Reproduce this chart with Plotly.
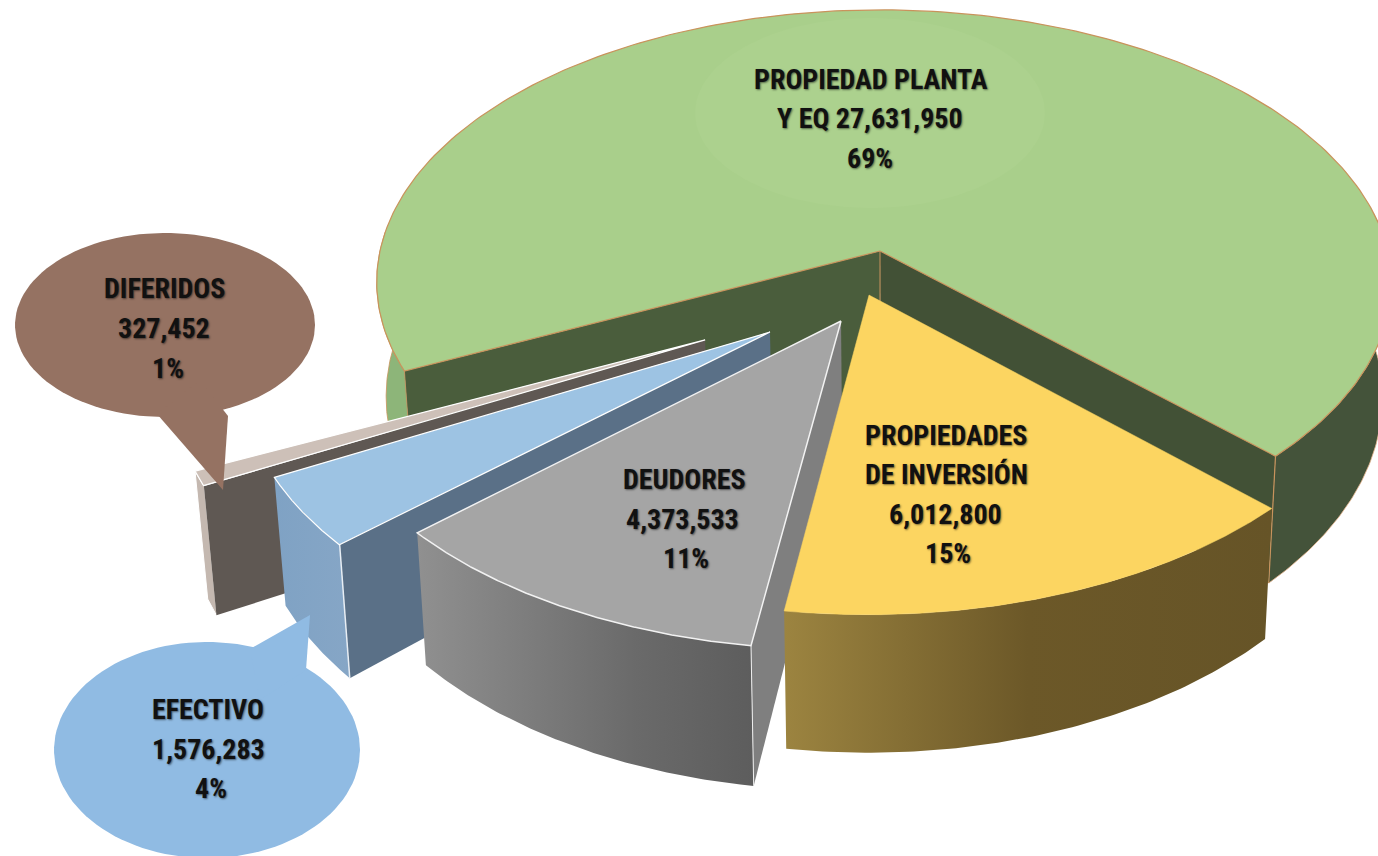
import numpy as np
import plotly.graph_objects as go

# ---- data ----
names = ["PROPIEDAD PLANTA Y EQ", "PROPIEDADES DE INVERSIÓN", "DEUDORES", "EFECTIVO", "DIFERIDOS"]
values = [27631950, 6012800, 4373533, 1576283, 327452]
label_heads = [["PROPIEDAD PLANTA", "Y EQ {v}", "{p}"],
               ["PROPIEDADES", "DE INVERSIÓN", "{v}", "{p}"],
               ["DEUDORES", "{v}", "{p}"],
               ["EFECTIVO", "{v}", "{p}"],
               ["DIFERIDOS", "{v}", "{p}"]]

# ---- camera / layout (not data) ----
W, H = 1378, 856
CX, APEX_Y, AX, AY, G = 880.0, 251.0, 500.0, 240.0, 0.114
START = 44.0  # world angle where the yellow slice begins
PULL = {"yellow": (-0.0216, 0.161), "gray": (-0.0757, 0.253),
        "blue": (-0.2127, 0.2916), "dif": (-0.337, 0.319), "green": (0.0, 0.0)}
RIM = {"yellow": 1.012, "gray": 1.016, "blue": 1.012, "dif": 1.012, "green": 1.0}


def proj(X, Y):
    w = 1.0 / (1.0 - G * Y)
    return CX + AX * X * w, (AY * Y + APEX_Y) * w


def down(x, y):
    return x - (x - 900.0) * 0.018, y + 95.0 + 0.07 * y


def rim(key, a0, a1, n=90):
    t = np.radians(np.linspace(a0, a1, n))
    px, py = PULL[key]
    r = RIM[key]
    if key == "green":
        r = r + 0.016 * np.clip(np.cos(t), 0, None) * np.clip(1 + np.sin(t), 0, 1)
    return proj(px + r * np.cos(t), py + r * np.sin(t))


def apex(key):
    return proj(*PULL[key])


fig = go.Figure()


def poly(x, y, fill=None, line=None, lw=1.0, grad=None):
    kw = dict(x=list(x), y=list(y), mode="lines", hoverinfo="skip", showlegend=False,
              line=dict(color=line or "rgba(0,0,0,0)", width=lw if line else 0))
    if fill or grad:
        kw["fill"] = "toself"
    if fill:
        kw["fillcolor"] = fill
    if grad:
        kw["fillgradient"] = dict(type="horizontal", colorscale=grad)
    fig.add_trace(go.Scatter(**kw))


def outer_wall(key, a0, a1, **kw):
    x, y = rim(key, a0, a1)
    bx, by = down(x, y)
    poly(np.r_[x, bx[::-1]], np.r_[y, by[::-1]], **kw)


def cut_wall(key, ang, extra=0.0, **kw):
    ax, ay = apex(key)
    rx, ry = rim(key, ang, ang, 1)
    rx, ry = float(rx[0]), float(ry[0])
    bx, by = down(rx, ry)
    cx, cy = down(ax, ay)
    cy += extra
    poly([ax, rx, bx, cx, ax], [ay, ry, by, cy, ay], **kw)


def edge(key, ang, color, lw):
    rx, ry = rim(key, ang, ang, 1)
    bx, by = down(rx, ry)
    poly([rx[0], bx[0]], [ry[0], by[0]], line=color, lw=lw)


def top(key, a0, a1, fill, line, lw):
    x, y = rim(key, a0, a1, 240)
    ax, ay = apex(key)
    poly(np.r_[ax, x, ax], np.r_[ay, y, ay], fill=fill, line=line, lw=lw)


# slice angles follow from the values
shares = np.array(values, float) / sum(values)
sweep = shares * 360.0
y0 = START
y1 = y0 + sweep[1]
g1 = y1 + sweep[2]
b1 = g1 + sweep[3]
d1 = b1 + sweep[4]
green_end = START + 360.0
ORANGE = "#C9935C"

# green slice
outer_wall("green", d1, 184, fill="#8DB579", line=ORANGE, lw=0.8)
outer_wall("green", START, -8, fill="#44533A", line="#E8B890", lw=0.8)
cut_wall("green", d1, extra=40, fill="#4A5D3C")
cut_wall("green", START, extra=40, fill="#425136")
edge("green", d1, ORANGE, 0.8)
edge("green", START, ORANGE, 1.2)
ax0, ay0 = apex("green")
poly([ax0, ax0], [ay0, ay0 + 60], line=ORANGE, lw=1)
top("green", d1, green_end, "#A9CF8B", ORANGE, 1.2)
t = np.linspace(0, 2 * np.pi, 120)
poly(870 + 175 * np.cos(t), 113 + 95 * np.sin(t), fill="#ACD18E")

# diferidos
outer_wall("dif", b1, d1, fill="#C4B8B0", line="#FFFFFF", lw=1)
cut_wall("dif", b1, fill="#5F5853")
top("dif", b1, d1, "#CDC0B8", "#FFFFFF", 1.2)

# efectivo
outer_wall("blue", g1, b1, grad=[[0, "#7FA2C4"], [1, "#86A6C6"]])
cut_wall("blue", g1, fill="#5A7087")
edge("blue", g1, "#E8EEF4", 1.5)
top("blue", g1, b1, "#9DC3E3", "#FFFFFF", 1.2)

# deudores
outer_wall("gray", y1, g1, grad=[[0, "#909090"], [0.65, "#6A6A6A"], [1, "#5D5D5D"]])
cut_wall("gray", y1, fill="#7F7F7F")
edge("gray", y1, "#EEEEEE", 1)
top("gray", y1, g1, "#A5A5A5", "#F2F2F2", 1.5)

# propiedades de inversion
outer_wall("yellow", y0, y1, grad=[[0, "#9C8440"], [0.5, "#6C5828"], [1, "#665427"]])
top("yellow", y0, y1, "#FCD561", "#FCD561", 0.5)

# callouts
poly(165 + 150 * np.cos(t), 325 + 92 * np.sin(t), fill="#957262")
poly([157, 223, 228, 200, 157], [414, 490, 416, 380, 414], fill="#957262")
poly(207 + 153 * np.cos(t), 750 + 108 * np.sin(t), fill="#90BBE3")
poly([250, 310, 306, 260, 250], [649, 615, 670, 700, 649], fill="#90BBE3")

# labels
pos = [[(871, 79), (870, 118), (870, 158)],
       [(946, 435), (946, 474), (945, 514), (948, 553)],
       [(684, 479), (682, 519), (686, 558)],
       [(208, 709), (208, 749), (211, 788)],
       [(164, 288), (164, 328), (168, 368)]]
for lines, points, v, s in zip(label_heads, pos, values, shares):
    for line, (x, y) in zip(lines, points):
        txt = line.format(v=f"{v:,}", p=f"{round(s * 100)}%")
        fig.add_annotation(x=x, y=y, xref="x", yref="y", text=f"<b>{txt}</b>", showarrow=False,
                           font=dict(family="Liberation Sans Narrow, Roboto Condensed, Liberation Sans",
                                     size=28, color="#111111",
                                     shadow="1px 1px 2px rgba(0,0,0,0.5)"))

fig.update_layout(width=W, height=H, margin=dict(l=0, r=0, t=0, b=0),
                  paper_bgcolor="white", plot_bgcolor="white", showlegend=False,
                  xaxis=dict(range=[0, W], visible=False, fixedrange=True),
                  yaxis=dict(range=[H, 0], visible=False, fixedrange=True))
fig.write_html("out.html", config=dict(displayModeBar=False),
               post_script="document.body.style.margin='0';document.body.style.overflow='hidden';")
